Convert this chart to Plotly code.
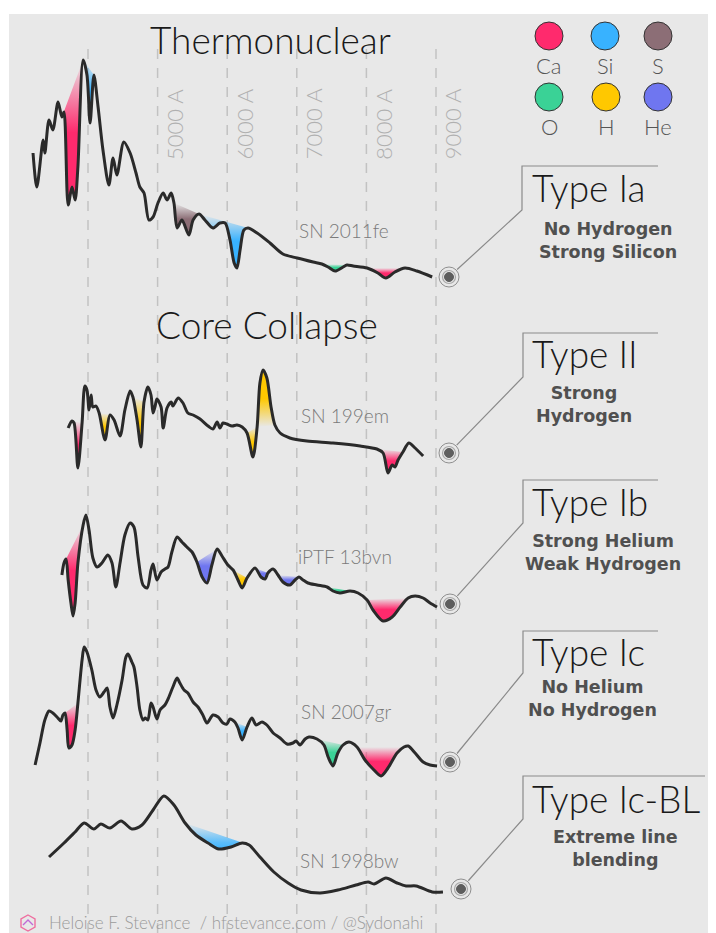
import plotly.graph_objects as go

W, H = 716, 933
PAD = 8  # page body margin around the figure

# spectra: wavelength (Angstrom) and relative flux
ia_wave = [3210, 3265, 3355, 3380, 3440, 3495, 3570, 3625, 3655, 3715, 3770, 3815, 3855, 3930,
           3985, 4030, 4085, 4145, 4215, 4300, 4360, 4415, 4515, 4605, 4690, 4745, 4805, 4875,
           4935, 5005, 5080, 5135, 5195, 5235, 5280, 5350, 5450, 5510, 5595, 5680, 5795, 5895,
           5970, 6040, 6100, 6140, 6185, 6240, 6300, 6430, 6615, 6800, 7005, 7235, 7360, 7450,
           7550, 7665, 7720, 7810, 8010, 8165, 8280, 8410, 8555, 8725, 8945]
ia_flux = [1.37, 1.03, 1.50, 1.37, 1.70, 1.60, 1.88, 1.73, 1.78, 0.85, 1.03, 0.90, 1.23, 2.30,
           2.15, 1.67, 2.15, 1.83, 1.40, 1.05, 1.32, 1.15, 1.48, 1.37, 1.17, 1.03, 0.97, 0.70,
           0.73, 0.87, 0.97, 0.90, 0.97, 0.87, 0.62, 0.70, 0.55, 0.70, 0.76, 0.70, 0.62, 0.67,
           0.67, 0.50, 0.27, 0.22, 0.40, 0.60, 0.62, 0.57, 0.47, 0.36, 0.32, 0.28, 0.26, 0.23,
           0.19, 0.23, 0.25, 0.24, 0.22, 0.17, 0.12, 0.18, 0.22, 0.19, 0.13]

ii_wave = [3715, 3770, 3800, 3855, 3915, 3955, 3985, 4015, 4045, 4070, 4115, 4160, 4245, 4315,
           4375, 4460, 4530, 4605, 4645, 4705, 4760, 4805, 4860, 4905, 4935, 4965, 4990, 5050,
           5080, 5135, 5195, 5220, 5295, 5365, 5435, 5510, 5610, 5725, 5795, 5855, 5895, 5940,
           5995, 6070, 6140, 6215, 6285, 6370, 6430, 6470, 6515, 6570, 6630, 6685, 6760, 6900,
           7145, 7520, 7910, 8150, 8240, 8310, 8370, 8410, 8455, 8525, 8610, 8700, 8815]
ii_flux = [0.52, 0.59, 0.57, 0.12, 0.57, 0.94, 0.90, 0.70, 0.85, 0.73, 0.74, 0.67, 0.40, 0.65,
           0.60, 0.44, 0.70, 0.89, 0.83, 0.60, 0.33, 0.78, 0.93, 0.85, 0.67, 0.74, 0.81, 0.73,
           0.52, 0.72, 0.78, 0.74, 0.82, 0.77, 0.67, 0.65, 0.61, 0.54, 0.51, 0.58, 0.52, 0.57,
           0.56, 0.54, 0.55, 0.53, 0.47, 0.23, 0.53, 0.97, 1.10, 1.02, 0.73, 0.55, 0.47, 0.42,
           0.39, 0.37, 0.34, 0.31, 0.27, 0.07, 0.15, 0.13, 0.20, 0.28, 0.37, 0.32, 0.24]

ib_wave = [3625, 3655, 3685, 3715, 3755, 3785, 3815, 3855, 3930, 3970, 4015, 4070, 4130, 4200,
           4285, 4345, 4400, 4460, 4530, 4605, 4660, 4720, 4790, 4850, 4905, 4935, 4990, 5050,
           5105, 5150, 5205, 5280, 5350, 5420, 5495, 5565, 5640, 5710, 5780, 5855, 5925, 6010,
           6085, 6155, 6215, 6285, 6400, 6485, 6545, 6585, 6660, 6730, 6800, 6900, 6975, 7030,
           7090, 7160, 7290, 7435, 7520, 7620, 7765, 7880, 8010, 8095, 8240, 8370, 8485, 8600,
           8700, 8815, 8915, 9015]
ib_flux = [0.55, 0.67, 0.71, 0.50, 0.27, 0.14, 0.27, 0.67, 1.05, 1.15, 1.00, 0.72, 0.63, 0.67,
           0.75, 0.67, 0.43, 0.67, 0.95, 1.07, 1.03, 0.73, 0.45, 0.42, 0.60, 0.66, 0.50, 0.58,
           0.61, 0.63, 0.78, 0.93, 0.88, 0.83, 0.78, 0.68, 0.53, 0.47, 0.65, 0.81, 0.74, 0.65,
           0.60, 0.50, 0.42, 0.52, 0.62, 0.53, 0.51, 0.57, 0.61, 0.55, 0.48, 0.45, 0.50, 0.53,
           0.50, 0.47, 0.45, 0.43, 0.39, 0.37, 0.39, 0.37, 0.30, 0.20, 0.09, 0.13, 0.23, 0.32,
           0.34, 0.32, 0.27, 0.23]

ic_wave = [3240, 3310, 3380, 3440, 3495, 3555, 3610, 3640, 3670, 3700, 3725, 3770, 3815, 3855,
           3915, 3945, 3985, 4055, 4115, 4170, 4230, 4275, 4315, 4360, 4415, 4490, 4545, 4575,
           4630, 4660, 4705, 4745, 4790, 4820, 4860, 4905, 4935, 4990, 5035, 5105, 5150, 5220,
           5280, 5320, 5380, 5435, 5510, 5580, 5650, 5710, 5795, 5870, 5940, 5995, 6040, 6110,
           6155, 6215, 6285, 6355, 6415, 6500, 6570, 6660, 6760, 6860, 6945, 6990, 7045, 7120,
           7175, 7290, 7390, 7450, 7520, 7590, 7665, 7750, 7865, 7980, 8095, 8210, 8310, 8440,
           8540, 8600, 8700, 8815, 8915, 9015]
ic_flux = [0.15, 0.37, 0.60, 0.69, 0.67, 0.63, 0.59, 0.65, 0.67, 0.50, 0.32, 0.35, 0.50, 0.77,
           1.20, 1.33, 1.28, 1.10, 0.90, 0.83, 0.88, 0.92, 0.73, 0.62, 0.75, 1.00, 1.23, 1.26,
           1.18, 1.13, 0.93, 0.70, 0.60, 0.62, 0.60, 0.77, 0.73, 0.61, 0.70, 0.75, 0.81, 0.93,
           1.02, 0.97, 0.90, 0.87, 0.78, 0.73, 0.65, 0.57, 0.65, 0.63, 0.57, 0.56, 0.61, 0.58,
           0.52, 0.40, 0.53, 0.62, 0.55, 0.58, 0.55, 0.47, 0.42, 0.36, 0.37, 0.39, 0.35, 0.41,
           0.43, 0.41, 0.35, 0.23, 0.14, 0.27, 0.35, 0.38, 0.33, 0.20, 0.11, 0.04, 0.12, 0.27,
           0.33, 0.34, 0.27, 0.18, 0.15, 0.14]

bl_wave = [3440, 3655, 3815, 3945, 4085, 4185, 4315, 4475, 4630, 4775, 4935, 5090, 5235, 5395,
           5550, 5725, 5880, 6055, 6215, 6315, 6470, 6670, 6875, 7060, 7335, 7590, 7850, 8025,
           8110, 8280, 8440, 8570, 8715, 8945, 9100]
bl_flux = [0.43, 0.57, 0.68, 0.77, 0.71, 0.76, 0.72, 0.79, 0.71, 0.75, 0.90, 1.04, 0.95, 0.77,
           0.65, 0.57, 0.51, 0.53, 0.57, 0.55, 0.43, 0.28, 0.17, 0.10, 0.07, 0.10, 0.15, 0.18,
           0.16, 0.22, 0.17, 0.14, 0.14, 0.08, 0.08]

# line features: (element, start, end, kind)
ia_lines = [("Ca", 3625, 3930, "abs"), ("Si", 3930, 4085, "abs"), ("S", 5235, 5595, "abs"),
            ("Si", 5595, 6300, "abs"), ("O", 7360, 7720, "abs"), ("Ca", 8010, 8555, "abs")]
ii_lines = [("Ca", 3770, 3915, "abs"), ("H", 4160, 4315, "abs"), ("H", 4645, 4805, "abs"),
            ("H", 6285, 6430, "abs"), ("H", 6430, 6685, "em"), ("Ca", 8150, 8525, "abs")]
ib_lines = [("Ca", 3685, 3930, "abs"), ("He", 5565, 5855, "abs"), ("H", 6085, 6285, "abs"),
            ("He", 6400, 6585, "abs"), ("He", 6730, 7030, "abs"), ("O", 7435, 7765, "abs"),
            ("Ca", 8010, 8600, "abs")]
ic_lines = [("Ca", 3670, 3855, "abs"), ("Si", 6110, 6285, "abs"), ("O", 7290, 7665, "abs"),
            ("Ca", 7865, 8540, "abs")]
bl_lines = [("Si", 5395, 6315, "blend")]

names = ["SN 2011fe", "SN 199em", "iPTF 13bvn", "SN 2007gr", "SN 1998bw"]
types = ["Type Ia", "Type II", "Type Ib", "Type Ic", "Type Ic-BL"]
notes = ["No Hydrogen<br>Strong Silicon", "Strong<br>Hydrogen",
         "Strong Helium<br>Weak Hydrogen", "No Helium<br>No Hydrogen",
         "Extreme line<br>blending"]
grid_waves = [4000, 5000, 6000, 7000, 8000, 9000]

elements = ["Ca", "Si", "S", "O", "H", "He"]
colors = {"Ca": (255, 42, 109), "Si": (56, 178, 255), "S": (140, 110, 118),
          "O": (58, 210, 150), "H": (255, 200, 0), "He": (111, 118, 240)}

spectra = [(ia_wave, ia_flux, ia_lines), (ii_wave, ii_flux, ii_lines),
           (ib_wave, ib_flux, ib_lines), (ic_wave, ic_flux, ic_lines),
           (bl_wave, bl_flux, bl_lines)]

FW, FH = W - PAD, H - PAD


# layout helpers (page pixel -> paper)
def px(x):
    return (x - PAD) / FW


def py(y):
    return 1 - (y - PAD) / FH


offsets = [6.43, 4.53, 3.03, 1.53, 0.33]
THIN = "Lato"
LINE = "#2a2a2a"

fig = go.Figure()

for (wave, flux, lines), off in zip(spectra, offsets):
    for el, lo, hi, kind in lines:
        seg = [(w, f + off) for w, f in zip(wave, flux) if lo <= w <= hi]
        r, g, b = colors[el]
        solid = f"rgba({r},{g},{b},1)"
        clear = f"rgba({r},{g},{b},0)"
        if kind == "abs":
            cs = [[0, solid], [0.5, solid], [1, clear]]
        elif kind == "em":
            cs = [[0, clear], [0.5, solid], [1, solid]]
        else:
            cs = [[0, f"rgba({r},{g},{b},0.95)"], [0.25, f"rgba({r},{g},{b},0.8)"], [1, clear]]
        fig.add_trace(go.Scatter(
            x=[s[0] for s in seg], y=[s[1] for s in seg],
            mode="lines", fill="toself",
            line=dict(width=0, shape="spline", smoothing=0.8),
            fillgradient=dict(type="vertical", colorscale=cs),
            hoverinfo="skip", showlegend=False))

for (wave, flux, lines), off in zip(spectra, offsets):
    fig.add_trace(go.Scatter(
        x=wave, y=[f + off for f in flux], mode="lines",
        line=dict(color=LINE, width=3, shape="spline", smoothing=0.8),
        hoverinfo="skip", showlegend=False))

shapes = []
annotations = []


def label(x, y, text, size, color, family=THIN, weight=300, xanchor="center", **kw):
    annotations.append(dict(x=px(x), y=py(y), xref="paper", yref="paper", text=text,
                            xanchor=xanchor, yanchor="middle", showarrow=False,
                            font=dict(family=family, size=size, color=color, weight=weight), **kw))


# background panel
shapes.append(dict(type="rect", xref="paper", yref="paper", x0=px(9), x1=1, y0=0, y1=py(14),
                   fillcolor="#e8e8e8", line=dict(width=0), layer="below"))

# wavelength grid
for wl in grid_waves:
    shapes.append(dict(type="line", xref="x", yref="paper", x0=wl, x1=wl, y0=0, y1=py(45),
                       line=dict(color="#c2c2c2", width=1.5, dash="10px,9px"), layer="below"))
    if wl > 4000:
        annotations.append(dict(x=wl + 235, y=py(124), xref="x", yref="paper", text=f"{wl} A",
                                textangle=-90, showarrow=False, xanchor="center", yanchor="middle",
                                font=dict(family=THIN, size=22, color="#b0b0b0", weight=300)))

# section titles
label(270, 40, "Thermonuclear", 37, "#1a1a1a")
label(267, 324, "Core Collapse", 37, "#1a1a1a")

# spectrum names
for name, (x, y) in zip(names, [(297, 230), (299, 416), (296, 556), (299, 711), (298, 860)]):
    label(x, y, name, 19, "#7a7a7a", xanchor="left")

# type call-outs
bulls = [(449, 277), (449, 453), (450, 604), (450, 762), (461, 889)]
corners = [(522, 210), (523, 377), (523, 523), (523, 673), (523, 819)]
tops = [166, 333, 480, 631, 776]
rights = [658, 658, 658, 658, 705]
title_y = [187, 354, 501, 651, 798]
note_pos = [(608, 241), (584, 404), (603, 552), (592, 698), (615, 848)]

for i in range(5):
    bx, by = bulls[i]
    cx, cy = corners[i]
    dx, dy = cx - bx, cy - by
    d = (dx * dx + dy * dy) ** 0.5
    sx, sy = bx + dx / d * 11, by + dy / d * 11
    path = (f"M {px(sx)},{py(sy)} L {px(cx)},{py(cy)} L {px(cx)},{py(tops[i])} "
            f"L {px(rights[i])},{py(tops[i])}")
    shapes.append(dict(type="path", xref="paper", yref="paper", path=path,
                       line=dict(color="#8a8a8a", width=1.2)))
    for r, fill, lc, lw in [(10, "rgba(0,0,0,0)", "#8f8f8f", 1), (6.5, "rgba(0,0,0,0)", "#a8a8a8", 1.2),
                            (4.5, "#5e5e5e", "#5e5e5e", 1)]:
        shapes.append(dict(type="circle", xref="paper", yref="paper",
                           x0=px(bx - r), x1=px(bx + r), y0=py(by + r), y1=py(by - r),
                           fillcolor=fill, line=dict(color=lc, width=lw)))
    label(530, title_y[i], types[i], 37, "#1a1a1a", xanchor="left")
    nx, ny = note_pos[i]
    label(nx, ny, notes[i], 17.5, "#505050", family="DejaVu Sans", weight="bold")

# element key
key_pos = [(549, 36), (605, 36), (658, 36), (549, 97), (606, 97), (658, 97)]
for el, (x, y) in zip(elements, key_pos):
    r, g, b = colors[el]
    shapes.append(dict(type="circle", xref="paper", yref="paper",
                       x0=px(x - 14), x1=px(x + 14), y0=py(y + 14), y1=py(y - 14),
                       fillcolor=f"rgb({r},{g},{b})", line=dict(color="#333333", width=1)))
    label(x, y + 29, el, 22, "#555555")

# footer
hexagon = [(28, 915), (35, 919), (35, 927), (28, 931), (21, 927), (21, 919)]
path = "M " + " L ".join(f"{px(a)},{py(b)}" for a, b in hexagon) + " Z"
shapes.append(dict(type="path", xref="paper", yref="paper", path=path,
                   line=dict(color="#ee6fa0", width=1.4)))
shapes.append(dict(type="path", xref="paper", yref="paper",
                   path=f"M {px(23)},{py(925)} L {px(28)},{py(920)} L {px(33)},{py(925)}",
                   line=dict(color="#c06ad6", width=1.4)))
label(47, 922, "Heloise F. Stevance  / hfstevance.com / @Sydonahi", 17, "#9a9a9a", xanchor="left")

# x axis: 4000 A at page x=88, 1000 A = 69.6 px
x0 = 4000 - (88 - PAD) / 0.0696
x1 = 4000 + (W - 88) / 0.0696
fig.update_layout(
    width=FW, height=FH, margin=dict(l=0, r=0, t=0, b=0),
    paper_bgcolor="white", plot_bgcolor="rgba(0,0,0,0)",
    xaxis=dict(range=[x0, x1], visible=False, fixedrange=True),
    yaxis=dict(range=[0, FH / 100], visible=False, fixedrange=True),
    shapes=shapes, annotations=annotations, showlegend=False,
)

fig.write_html("out.html")
